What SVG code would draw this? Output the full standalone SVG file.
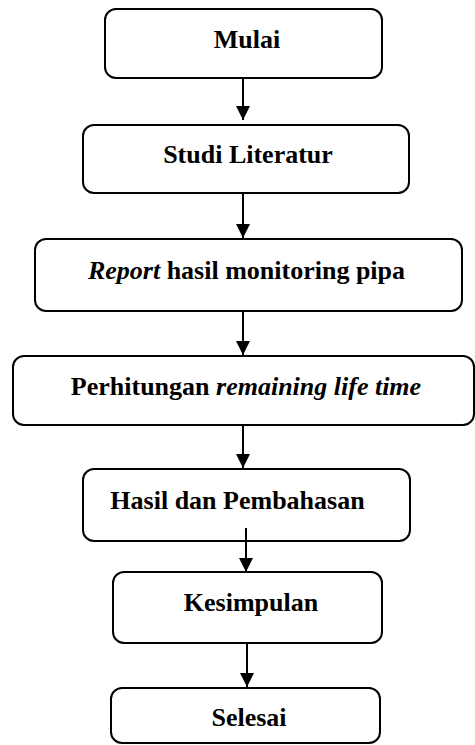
<svg xmlns="http://www.w3.org/2000/svg" width="475" height="745" viewBox="0 0 475 745">
<defs>
<marker id="ah" markerUnits="userSpaceOnUse" markerWidth="16" markerHeight="16" refX="14" refY="7" orient="auto">
<polygon points="0,0 14,7 0,14" fill="#000"/>
</marker>
</defs>
<rect width="475" height="745" fill="#fff"/>
<g fill="#fff" stroke="#000" stroke-width="2">
<g id="n1"><rect x="105" y="9" width="277" height="69" rx="11"/><text x="247" y="48" font-family="Liberation Serif" font-size="26" font-weight="bold" text-anchor="middle" fill="#000" stroke="none">Mulai</text></g>
<g id="n2"><rect x="83" y="125" width="326" height="68" rx="11"/><text x="248" y="163" font-family="Liberation Serif" font-size="26" font-weight="bold" text-anchor="middle" fill="#000" stroke="none">Studi Literatur</text></g>
<g id="n3"><rect x="35" y="239" width="427" height="72" rx="11"/><text x="246.5" y="279" font-family="Liberation Serif" font-size="26" font-weight="bold" text-anchor="middle" fill="#000" stroke="none"><tspan font-style="italic">Report</tspan> hasil monitoring pipa</text></g>
<g id="n4"><rect x="13" y="356" width="461" height="69" rx="11"/><text x="246" y="395" font-family="Liberation Serif" font-size="26" font-weight="bold" text-anchor="middle" fill="#000" stroke="none">Perhitungan <tspan font-style="italic">remaining life time</tspan></text></g>
<g id="n5"><rect x="83" y="469" width="327" height="72" rx="11"/><text x="237.5" y="509" font-family="Liberation Serif" font-size="26" font-weight="bold" text-anchor="middle" fill="#000" stroke="none">Hasil dan Pembahasan</text></g>
<g id="n6"><rect x="113" y="572" width="269" height="71" rx="11"/><text x="251" y="611" font-family="Liberation Serif" font-size="26" font-weight="bold" text-anchor="middle" fill="#000" stroke="none">Kesimpulan</text></g>
<g id="n7"><rect x="111" y="688" width="269" height="55" rx="11"/><text x="249" y="726" font-family="Liberation Serif" font-size="26" font-weight="bold" text-anchor="middle" fill="#000" stroke="none">Selesai</text></g>
</g>
<g id="connectors" stroke="#000" stroke-width="2" fill="none">
<line x1="243" y1="78" x2="243" y2="120" marker-end="url(#ah)"/>
<line x1="243" y1="193" x2="243" y2="238" marker-end="url(#ah)"/>
<line x1="243" y1="311" x2="243" y2="355" marker-end="url(#ah)"/>
<line x1="243" y1="425" x2="243" y2="468" marker-end="url(#ah)"/>
<line x1="246" y1="528" x2="246" y2="572" marker-end="url(#ah)"/>
<line x1="247" y1="643" x2="247" y2="687" marker-end="url(#ah)"/>
</g>
</svg>
